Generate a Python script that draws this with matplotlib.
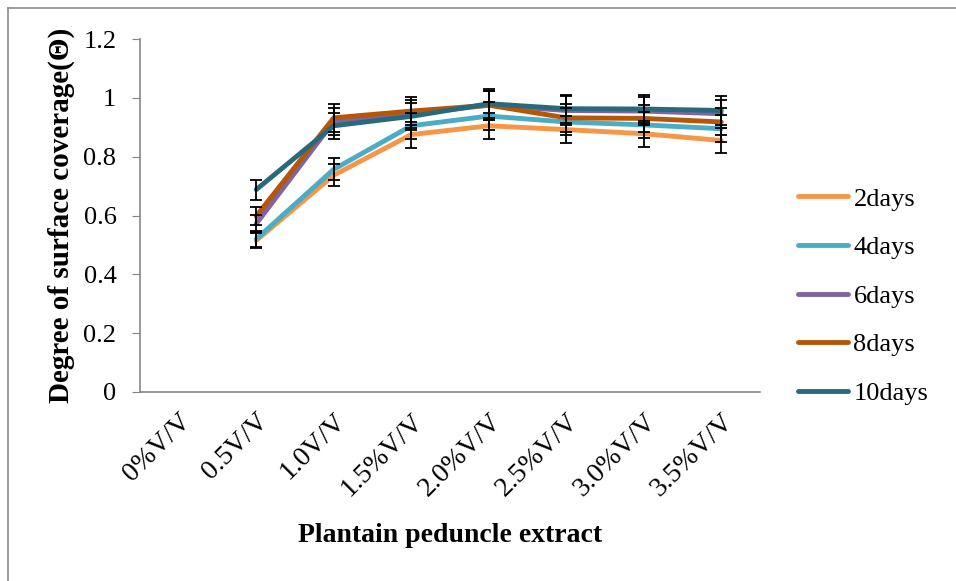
import numpy as np
import matplotlib
matplotlib.use("Agg")
import matplotlib.pyplot as plt
from matplotlib.lines import Line2D

# extract concentrations on the x axis
categories = ["0%V/V", "0.5V/V", "1.0V/V", "1.5%V/V", "2.0%V/V",
              "2.5%V/V", "3.0%V/V", "3.5%V/V"]
series_names = ["2days", "4days", "6days", "8days", "10days"]

nan = np.nan
days2 = [nan, 0.515, 0.737, 0.875, 0.905, 0.892, 0.878, 0.855]
days4 = [nan, 0.520, 0.757, 0.905, 0.938, 0.918, 0.908, 0.895]
days6 = [nan, 0.572, 0.920, 0.945, 0.975, 0.957, 0.955, 0.946]
days8 = [nan, 0.598, 0.932, 0.955, 0.975, 0.932, 0.930, 0.918]
days10 = [nan, 0.688, 0.905, 0.937, 0.980, 0.963, 0.962, 0.957]

err2 = [nan, 0.026, 0.037, 0.044, 0.045, 0.045, 0.044, 0.043]
err4 = [nan, 0.026, 0.038, 0.045, 0.047, 0.046, 0.045, 0.045]
err6 = [nan, 0.029, 0.046, 0.047, 0.049, 0.048, 0.048, 0.047]
err8 = [nan, 0.030, 0.047, 0.048, 0.049, 0.047, 0.047, 0.046]
err10 = [nan, 0.034, 0.045, 0.047, 0.049, 0.048, 0.048, 0.048]

values = [days2, days4, days6, days8, days10]
errors = [err2, err4, err6, err8, err10]
colors = ["#F79646", "#4BACC6", "#8064A2", "#B65708", "#276A7C"]

plt.rcParams["font.family"] = ["Liberation Serif", "DejaVu Serif"]

W, H = 956, 581
fig = plt.figure(figsize=(W / 100, H / 100), dpi=100)
# grey frame round the chart (left and top edges show)
fig.lines.append(Line2D([8 / W, 8 / W], [0, 1 - 8 / H], transform=fig.transFigure,
                        color="#8c8c8c", linewidth=1.2))
fig.lines.append(Line2D([8 / W, 1], [1 - 8 / H, 1 - 8 / H], transform=fig.transFigure,
                        color="#8c8c8c", linewidth=1.2))

ax = fig.add_axes([140 / W, 1 - 392 / H, 620 / W, 353 / H])
x = np.arange(len(categories))

for name, v, c in zip(series_names, values, colors):
    ax.plot(x, v, color=c, linewidth=3.5, solid_capstyle="round",
            label=name, zorder=2)
for v, e in zip(values, errors):
    ax.errorbar(x, v, yerr=e, fmt="none", ecolor="black", elinewidth=1.3,
                capsize=4, capthick=1.3, zorder=3)

ax.set_xlim(-0.5, len(categories) - 0.5)
ax.set_ylim(0, 1.2)
ax.set_yticks([0, 0.2, 0.4, 0.6, 0.8, 1.0, 1.2])
ax.set_yticklabels(["0", "0.2", "0.4", "0.6", "0.8", "1", "1.2"])
ax.set_xticks(x)
ax.set_xticklabels(categories, rotation=45, ha="right", va="top",
                   rotation_mode="anchor")
ax.tick_params(axis="y", direction="out", length=6, color="#868686",
               labelsize=19, pad=11)
ax.tick_params(axis="x", length=0, labelsize=20, pad=12)

for s in ["top", "right"]:
    ax.spines[s].set_visible(False)
for s in ["left", "bottom"]:
    ax.spines[s].set_color("#868686")
    ax.spines[s].set_linewidth(1.2)

ax.set_xlabel("Plantain peduncle extract", fontsize=20, fontweight="bold",
              labelpad=16)
ax.set_ylabel("Degree of surface coverage(Θ)", fontsize=21,
              fontweight="bold", labelpad=6)

handles, labels = ax.get_legend_handles_labels()
fig.legend(handles, labels, loc="center left",
           bbox_to_anchor=(798 / W, 1 - 296 / H), frameon=False,
           fontsize=19, handlelength=1.9, handletextpad=0.2,
           labelspacing=0.95, borderpad=0, borderaxespad=0)

fig.savefig("out.png", dpi=100)
